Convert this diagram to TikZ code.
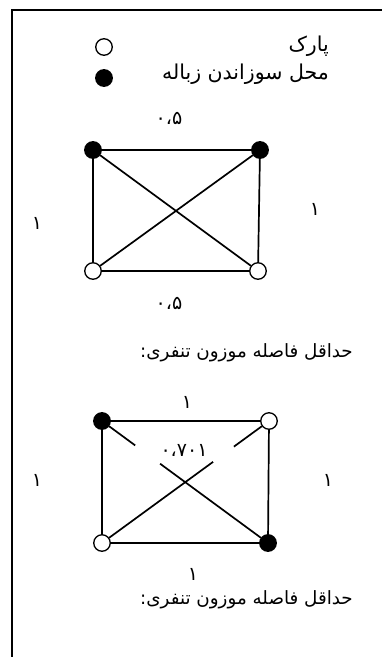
\documentclass[tikz,border=0pt]{standalone}
\usepackage{fontspec}
\newfontfamily\fa[Script=Arabic]{DejaVu Sans}
\TeXXeTstate=1
\usetikzlibrary{calc}
\tikzset{
  vtx/.style={circle,draw=black,line width=1.3pt,minimum size=16.5pt,inner sep=0pt},
  fullv/.style={vtx,fill=black},
  openv/.style={vtx,fill=white},
  edge/.style={line width=1.7pt},
  lbl/.style={font=\fa\fontsize{19}{22}\selectfont,inner sep=0pt},
  txt/.style={font=\fa\fontsize{18.3}{22}\selectfont,inner sep=0pt,anchor=east},
  legtxt/.style={font=\fa\fontsize{20.5}{24}\selectfont,inner sep=0pt,anchor=east}
}
\begin{document}
\begin{tikzpicture}[x=1pt,y=-1pt]
\useasboundingbox (0,0) rectangle (382,657);
% frame
\coordinate (f1) at (12,657);
\coordinate (f2) at (12,10);
\coordinate (f3) at (382,10);
\draw[line width=1.6pt] (f1) -- (f2) -- (f3);
% legend
\node[openv] (lo) at (104,47) {};
\node[fullv] (lf) at (104,78) {};
\node[legtxt] (tp) at (329,46) {\beginR پارک\endR};
\node[legtxt] (tz) at (329,74) {\beginR محل سوزاندن زباله\endR};
% graph 1
\node[fullv] (a1) at (93,150) {};
\node[fullv] (a2) at (260,150) {};
\node[openv] (a3) at (93,271) {};
\node[openv] (a4) at (258,271) {};
\draw[edge] (a1) -- (a2) (a1) -- (a3) (a2) -- (a4) (a3) -- (a4) (a1) -- (a4) (a2) -- (a3);
\node[lbl] (w1) at (169,118) {۰،۵};
\node[lbl] (w2) at (37,223) {۱};
\node[lbl] (w3) at (315,209) {۱};
\node[lbl] (w4) at (169,303) {۰،۵};
\node[txt] (t1) at (353,353) {\beginR حداقل فاصله موزون تنفری:\endR};
% graph 2
\node[fullv] (b1) at (102,421) {};
\node[openv] (b2) at (269,421) {};
\node[openv] (b3) at (102,543) {};
\node[fullv] (b4) at (268,543) {};
\coordinate (c1) at ($(b1)!0.2!(b4)$);
\coordinate (c2) at ($(b1)!0.35!(b4)$);
\coordinate (c3) at ($(b2)!0.21!(b3)$);
\coordinate (c4) at ($(b2)!0.335!(b3)$);
\draw[edge] (b1) -- (b2) (b1) -- (b3) (b2) -- (b4) (b3) -- (b4);
\draw[edge] (b1) -- (c1) (c2) -- (b4) (b2) -- (c3) (c4) -- (b3);
\node[lbl] (v1) at (187,402) {۱};
\node[lbl] (v2) at (184,450) {۰،۷۰۱};
\node[lbl] (v3) at (37,480) {۱};
\node[lbl] (v4) at (328,480) {۱};
\node[lbl] (v5) at (193,574) {۱};
\node[txt] (t2) at (353,600) {\beginR حداقل فاصله موزون تنفری:\endR};
\end{tikzpicture}
\end{document}
